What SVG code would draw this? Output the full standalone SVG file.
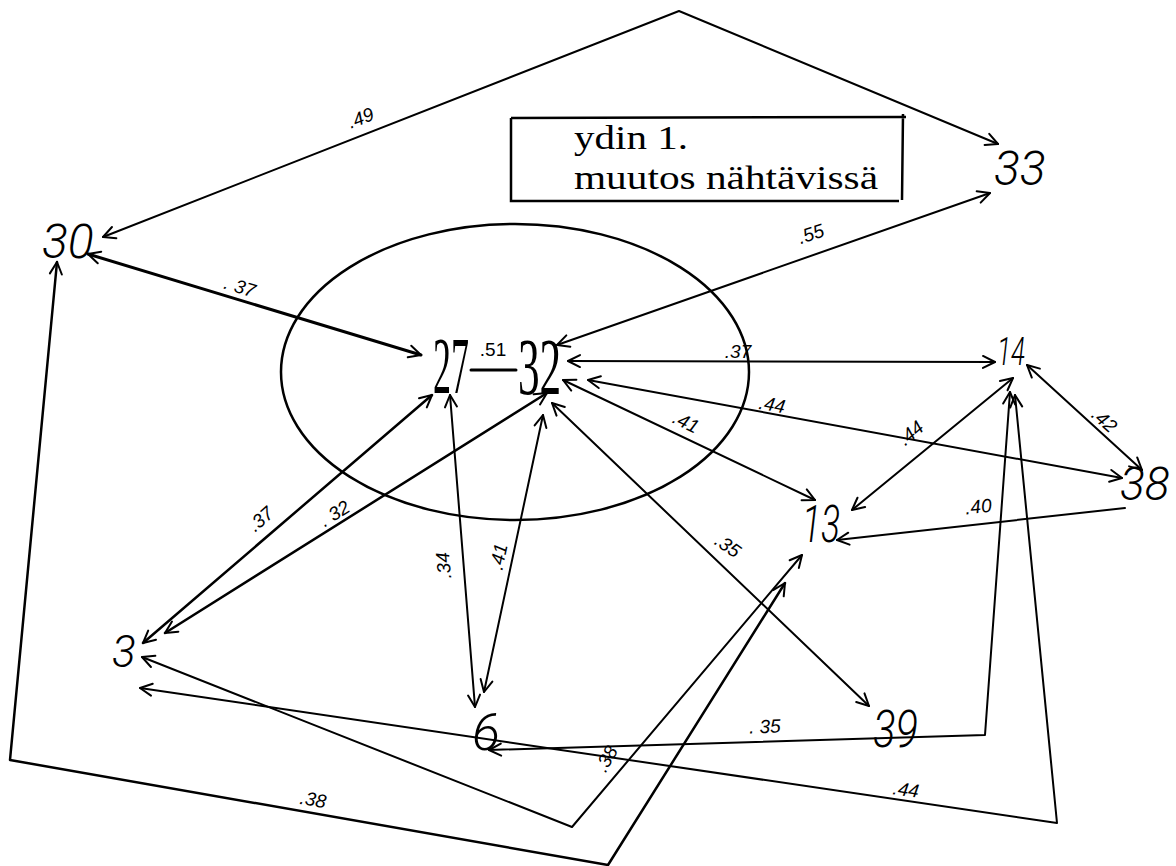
<svg xmlns="http://www.w3.org/2000/svg" width="1176" height="866" viewBox="0 0 1176 866">
<style>
.c{fill:none;stroke:#000;stroke-width:2;stroke-linecap:round;stroke-linejoin:round}
.ar{marker-start:url(#ah);marker-end:url(#ah)}
.l{font-family:"Liberation Sans",Arial,sans-serif;font-style:italic;font-size:19px;fill:#000}
.n{font-family:Roboto,"Liberation Sans",sans-serif;font-weight:300;font-style:italic;fill:#000}
.s{font-family:"Liberation Serif","Times New Roman",serif;fill:#000}
</style>
<defs>
<marker id="ah" viewBox="0 0 16 16" refX="14" refY="8" markerWidth="16" markerHeight="16" markerUnits="userSpaceOnUse" orient="auto-start-reverse">
<path d="M2,2 L14,8 L2,14" fill="none" stroke="#000" stroke-width="2" stroke-linecap="round" stroke-linejoin="round"/>
</marker>
<marker id="ahe" viewBox="0 0 16 16" refX="14" refY="8" markerWidth="16" markerHeight="16" markerUnits="userSpaceOnUse" orient="auto">
<path d="M2,2 L14,8 L2,14" fill="none" stroke="#000" stroke-width="2" stroke-linecap="round" stroke-linejoin="round"/>
</marker>
</defs>
<rect width="1176" height="866" fill="#fff"/>

<g id="legend">
<path d="M511,118 L906,117 M903,114 L902,200 M899,201 L511,201 L511,118" fill="none" stroke="#000" stroke-width="2.5"/>
<text class="s" x="574" y="149" font-size="33" textLength="114" lengthAdjust="spacingAndGlyphs">ydin 1.</text>
<text class="s" x="574" y="189" font-size="33" textLength="304" lengthAdjust="spacingAndGlyphs">muutos nähtävissä</text>
</g>

<g id="core">
<ellipse cx="515" cy="372" rx="234" ry="148" fill="none" stroke="#000" stroke-width="2.5"/>
</g>

<g id="connectors">
<path class="c ar" d="M103,237 L679,11 L998,144"/>
<path class="c ar" d="M557,345 L990,193"/>
<path class="c ar" d="M88,254 L421,355" style="stroke-width:3"/>
<path class="c" d="M471,370 L516,370" style="stroke-width:3"/>
<path class="c ar" d="M568,361 L995,362"/>
<path class="c ar" d="M588,380 L1122,478"/>
<path class="c ar" d="M563,380 L815,500"/>
<path class="c ar" d="M552,403 L869,706"/>
<path class="c ar" d="M143,643 L432,395" style="stroke-width:2.5"/>
<path class="c ar" d="M165,633 L547,393" style="stroke-width:2.5"/>
<path class="c ar" d="M475,707 L450,395"/>
<path class="c ar" d="M484,692 L543,415"/>
<path class="c ar" d="M1027,365 L1142,470"/>
<path class="c ar" d="M1013,378 L852,510"/>
<path class="c" d="M1125,508 L837,540" marker-end="url(#ahe)"/>
<path class="c ar" d="M1010,392 L985,735 L489,750"/>
<path class="c ar" d="M1015,395 L1057,823 L140,688"/>
<path class="c ar" d="M142,657 L572,827 L802,555"/>
<path class="c ar" d="M57,262 L10,760 L608,865 L785,583" style="stroke-width:2.5"/>
</g>

<g id="edge-labels">
<text class="l" transform="translate(363,124) rotate(-21.5)" text-anchor="middle">.49</text>
<text class="l" transform="translate(813,240) rotate(-19)" text-anchor="middle">.55</text>
<text class="l" transform="translate(238,293) rotate(17)" text-anchor="middle">. 37</text>
<text class="l" x="493" y="356" font-size="14" text-anchor="middle" style="font-style:normal">.51</text>
<text class="l" x="738" y="358" text-anchor="middle">.37</text>
<text class="l" transform="translate(771,411) rotate(10)" text-anchor="middle">.44</text>
<text class="l" transform="translate(683,428) rotate(26)" text-anchor="middle">.41</text>
<text class="l" transform="translate(724,551) rotate(35)" text-anchor="middle">.35</text>
<text class="l" transform="translate(265,524) rotate(-41)" text-anchor="middle">.37</text>
<text class="l" transform="translate(338,519) rotate(-32)" text-anchor="middle">. 32</text>
<text class="l" transform="translate(450,565) rotate(-95)" text-anchor="middle">.34</text>
<text class="l" transform="translate(505,558) rotate(-78)" text-anchor="middle">.41</text>
<text class="l" transform="translate(1100,425) rotate(42)" text-anchor="middle">.42</text>
<text class="l" transform="translate(915,438) rotate(-40)" text-anchor="middle">.44</text>
<text class="l" transform="translate(979,513) rotate(-6)" text-anchor="middle">.40</text>
<text class="l" transform="translate(765,733) rotate(-2)" text-anchor="middle">. 35</text>
<text class="l" transform="translate(905,796) rotate(8)" text-anchor="middle">.44</text>
<text class="l" transform="translate(612,762) rotate(-60)" text-anchor="middle">.38</text>
<text class="l" transform="translate(312,806) rotate(10)" text-anchor="middle">.38</text>
</g>

<g id="node-30"><text class="n" x="42" y="258" font-size="48">30</text></g>
<g id="node-33"><text class="n" x="994" y="185" font-size="48">33</text></g>
<g id="node-27"><text class="s" transform="translate(433,393) scale(0.45,1)" font-size="80">27</text></g>
<g id="node-32"><text class="s" transform="translate(518,394) scale(0.54,1)" font-size="80">32</text></g>
<g id="node-14"><text class="n" x="997" y="365" font-size="38" textLength="28" lengthAdjust="spacingAndGlyphs">14</text></g>
<g id="node-38"><text class="n" x="1120" y="500" font-size="46">38</text></g>
<g id="node-13"><text class="n" x="802" y="542" font-size="52" textLength="38" lengthAdjust="spacingAndGlyphs">13</text></g>
<g id="node-3"><text class="n" x="112" y="667" font-size="44">3</text></g>
<g id="node-6"><text class="n" x="472" y="750" font-size="52">6</text></g>
<g id="node-39"><text class="n" x="873" y="747" font-size="52" textLength="45" lengthAdjust="spacingAndGlyphs">39</text></g>
</svg>
